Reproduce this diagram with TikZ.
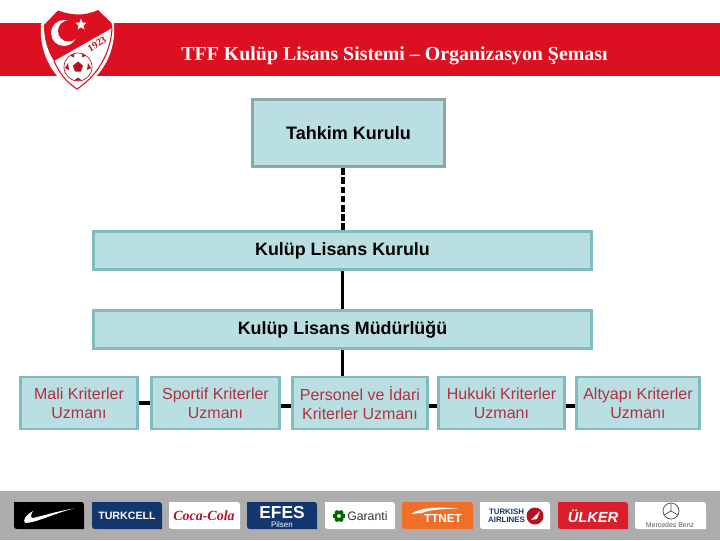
\documentclass[tikz,border=0pt]{standalone}
\usepackage{fontspec}
\setmainfont{Liberation Sans}
\newfontfamily\serifbf{Liberation Serif}
\usetikzlibrary{calc}
\definecolor{bandred}{HTML}{DC1020}
\definecolor{darkred}{HTML}{B5121E}
\definecolor{boxfill}{HTML}{B9DFE3}
\definecolor{boxedge}{HTML}{7FBCC0}
\definecolor{topedge}{HTML}{8FA6A9}
\definecolor{redtext}{HTML}{B03040}
\definecolor{bandgray}{HTML}{ADADAD}
\definecolor{navy}{HTML}{14366E}
\definecolor{ttorange}{HTML}{F0702A}
\definecolor{ulkerred}{HTML}{D91F2E}
\tikzset{
  orgbox/.style={draw=boxedge,fill=boxfill,line width=2.2pt,inner sep=0pt,align=center},
  specbox/.style={orgbox,minimum height=39pt,text=redtext,font=\fontsize{12}{14.4}\selectfont},
  wide/.style={orgbox,minimum width=373pt,minimum height=29pt,text=black,font=\fontsize{13.4}{15}\selectfont\bfseries},
  link/.style={line width=2.5pt,black},
  logotext/.style={inner sep=0pt,align=center}
}
\newcommand\logobox[3]{\fill[#3] (#1,502) -- ({#2-6},502) .. controls (#2,502) .. (#2,508) -- (#2,529) -- ({#1+6},529) .. controls (#1,529) .. (#1,523) -- cycle;}
\begin{document}
\begin{tikzpicture}[x=0.75pt,y=-0.75pt]
\useasboundingbox (0,0) rectangle (720,540);
\fill[white] (0,0) rectangle (720,540);
% header band
\fill[bandred] (0,23) rectangle (720,76);
\node[text=white,inner sep=0pt,font=\serifbf\fontsize{14.9}{17}\selectfont\bfseries] (title) at (394.5,55.5) {TFF Kulüp Lisans Sistemi – Organizasyon Şeması};
% shield
\fill[white] (58,9) .. controls (66,12) and (74,13) .. (78,13) .. controls (83,13) and (91,12) .. (98,8.5) -- (114,23) .. controls (116,50) and (105,75) .. (77,92) .. controls (50,77) and (39,50) .. (41,24) -- cycle;
\fill[bandred] (58,10.5) .. controls (66,13.5) and (74,14.5) .. (78,14.5) .. controls (83,14.5) and (91,13.5) .. (98,10) -- (111.5,23) .. controls (112,25) and (112,27) .. (112,28) -- (54,61) .. controls (46,48) and (44,36) .. (44,25) -- cycle;
\draw[bandred,line width=.8pt] (112,28) .. controls (111,50) and (100,74) .. (77,89) .. controls (65,81) and (59,72) .. (54,61);
\fill[white] (64,33) circle[radius=13];
\fill[bandred] (68.5,31) circle[radius=10.5];
\fill[white] (81,18.5) -- (82.5,22.5) -- (86.5,22.8) -- (83.5,25.5) -- (84.5,29.5) -- (81,27.3) -- (77.5,29.5) -- (78.5,25.5) -- (75.5,22.8) -- (79.5,22.5) -- cycle;
\node[rotate=33,text=darkred,inner sep=0pt,font=\serifbf\fontsize{7.5}{8}\selectfont\bfseries] (year) at (97,44) {1923};
\draw[darkred,fill=white,line width=.5pt] (78,67) circle[radius=14];
\fill[darkred] (78,61.5) -- (83,65.5) -- (81,71.5) -- (75,71.5) -- (73,65.5) -- cycle;
\fill[darkred] (70,55.5) -- (74,54) -- (74,57.5) -- cycle;
\fill[darkred] (86,55.5) -- (82,54) -- (82,57.5) -- cycle;
\fill[darkred] (65,68) -- (68,63) -- (69,70) -- cycle;
\fill[darkred] (91,68) -- (88,63) -- (87,70) -- cycle;
\fill[darkred] (74,80.5) -- (82,80.5) -- (78,77.5) -- cycle;
% boxes
\node[orgbox,draw=topedge,minimum width=144pt,minimum height=50.5pt,text=black,font=\fontsize{13.5}{15}\selectfont\bfseries] (tahkim) at (348.5,133) {\raisebox{-0.75pt}{Tahkim Kurulu}};
\node[wide] (kurulu) at (342.5,250.5) {\raisebox{-0.75pt}{Kulüp Lisans Kurulu}};
\node[wide] (mudur) at (342.5,329.5) {\raisebox{-0.75pt}{Kulüp Lisans Müdürlüğü}};
\node[specbox,minimum width=88pt] (mali) at (79,403) {Mali Kriterler\\Uzmanı};
\node[specbox,minimum width=96pt] (sportif) at (215.5,403) {Sportif Kriterler\\Uzmanı};
\node[specbox,minimum width=101.5pt] (personel) at (360,403) {Personel ve İdari\\Kriterler Uzmanı};
\node[specbox,minimum width=94.5pt] (hukuki) at (501.5,403) {Hukuki Kriterler\\Uzmanı};
\node[specbox,minimum width=92.5pt] (altyapi) at (638,403) {Altyapı Kriterler\\Uzmanı};
% connectors
\draw[line width=3pt,black,dash pattern=on 5pt off 1.9pt] (kurulu.north |- tahkim.south) -- (kurulu.north);
\draw[link] (kurulu) -- (mudur);
\draw[link] (mudur.south) -- (mudur.south |- personel.north);
\draw[link] (mali.east) -- (sportif.west);
\draw[link] ([yshift=-2.2pt]sportif.east) -- ([yshift=-2.2pt]personel.west);
\draw[link] ([yshift=-2.2pt]personel.east) -- ([yshift=-2.2pt]hukuki.west);
\draw[link] ([yshift=-2.2pt]hukuki.east) -- ([yshift=-2.2pt]altyapi.west);
% sponsor band
\fill[bandgray] (0,491) rectangle (720,540);
\logobox{14}{84}{black}
\fill[white] (25,523) .. controls (36,523) and (55,513) .. (74,508.5) .. controls (58,511) and (42,516) .. (33,518) .. controls (30,518) and (31,514) .. (33,511) .. controls (27,514) and (22,520) .. (25,523) -- cycle;
\logobox{92}{162}{navy}
\node[logotext,text=white,font=\fontsize{8}{9}\selectfont\bfseries] (turkcell) at (127,515.5) {TURKCELL};
\logobox{169}{240}{white}
\node[logotext,text=darkred,font=\serifbf\fontsize{10.5}{11}\selectfont\bfseries\itshape] (coca) at (204,516) {Coca-Cola};
\logobox{247}{317}{navy}
\node[logotext,text=white,font=\fontsize{13}{13}\selectfont\bfseries] (efes) at (282,513) {EFES};
\node[logotext,text=white,font=\fontsize{6}{6}\selectfont] (pilsen) at (282,524.5) {Pilsen};
\logobox{325}{395}{white}
\foreach \a in {0,60,...,300}{\fill[green!40!black] ($(339,516)+(\a:4)$) circle[radius=2.4];}
\node[logotext,text=black!80,font=\fontsize{9.2}{10}\selectfont,anchor=west] (garanti) at (347,516) {Garanti};
\logobox{402}{473}{ttorange}
\fill[white] (411,514) .. controls (420,507) and (440,507) .. (458,508.5) .. controls (440,509) and (428,510) .. (422,513) -- cycle;
\node[logotext,text=white,font=\fontsize{8.8}{9}\selectfont\bfseries] (ttnet) at (443,518.5) {TTNET};
\logobox{480}{550}{white}
\node[logotext,text=navy,font=\fontsize{5.9}{6}\selectfont\bfseries] (thy) at (506.5,516) {TURKISH\\AIRLINES};
\fill[darkred] (535,516) circle[radius=8.5];
\fill[white] (531,520) -- (540,511) -- (537,519) -- cycle;
\logobox{558}{628}{ulkerred}
\node[logotext,text=white,font=\fontsize{11}{11}\selectfont\bfseries\itshape] (ulker) at (593,516) {ÜLKER};
\logobox{635}{706}{white}
\draw[black!65,line width=.6pt] (671,511) circle[radius=8];
\draw[black!65,line width=.6pt] (671,503) -- (671,511) -- (664,515) (671,511) -- (678,515);
\node[logotext,text=black!65,font=\fontsize{5.2}{6}\selectfont] (merc) at (670,525.5) {Mercedes Benz};
\end{tikzpicture}
\end{document}
